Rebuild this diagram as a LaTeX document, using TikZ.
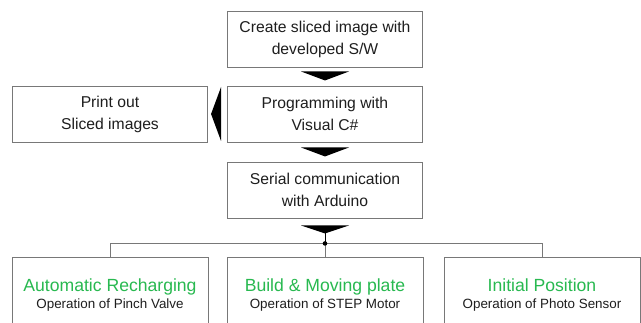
\documentclass[tikz,border=0pt]{standalone}
\usepackage{fontspec}
\setmainfont{Liberation Sans}
\usetikzlibrary{calc}
\definecolor{boxline}{RGB}{120,120,120}
\definecolor{txt}{RGB}{30,30,30}
\definecolor{grn}{RGB}{40,185,80}
\tikzset{
  stepbox/.style={draw=boxline, line width=0.9pt, fill=white, minimum width=195pt, minimum height=56pt, inner sep=0pt, align=center, text=txt, font=\fontsize{15.7}{22}\selectfont},
  outbox/.style={draw=boxline, line width=0.9pt, fill=white, minimum width=196pt, minimum height=90pt, inner sep=0pt, anchor=north},
  gtitle/.style={anchor=base, inner sep=0pt, text=grn, font=\fontsize{17.6}{20}\selectfont},
  bsub/.style={anchor=base, inner sep=0pt, text=txt, font=\fontsize{13.4}{16}\selectfont},
  tri/.style={fill=black, draw=none},
  wire/.style={draw=boxline, line width=0.9pt}
}
\begin{document}
\begin{tikzpicture}[x=1pt,y=-1pt]
\useasboundingbox (0,0) rectangle (641,323);
\clip (0,0) rectangle (641,323);
\fill[white] (0,0) rectangle (641,323);
% main column
\node[stepbox] (create) at (325,39) {Create sliced image with\\developed S/W};
\node[stepbox] (prog) at (325,114) {Programming with\\Visual C\#};
\node[stepbox] (print) at (110,114) {Print out\\Sliced images};
\node[stepbox] (serial) at (325,190) {Serial communication\\with Arduino};
% arrows
\fill[tri] ($(create.south)+(-24,4)$) -- ($(create.south)+(24,4)$) -- ($(create.south)+(0,13)$) -- cycle;
\fill[tri] ($(prog.south)+(-24,5)$) -- ($(prog.south)+(24,5)$) -- ($(prog.south)+(0,14)$) -- cycle;
\fill[tri] ($(prog.west)+(-6,-27)$) -- ($(prog.west)+(-6,27)$) -- ($(prog.west)+(-16,0)$) -- cycle;
\fill[tri] ($(serial.south)+(-24,7)$) -- ($(serial.south)+(24,7)$) -- ($(serial.south)+(0,15)$) -- cycle;
% bottom boxes
\node[outbox] (b1) at (110,257) {};
\node[outbox] (b2) at (325,257) {};
\node[outbox] (b3) at (542,257) {};
\node[gtitle] (g1) at (110,292) {Automatic Recharging};
\node[bsub] (s1) at (110,309) {Operation of Pinch Valve};
\node[gtitle] (g2) at (325,292) {Build \& Moving plate};
\node[bsub] (s2) at (325,309) {Operation of STEP Motor};
\node[gtitle] (g3) at (542,292) {Initial Position};
\node[bsub] (s3) at (542,309) {Operation of Photo Sensor};
% distribution
\coordinate (hub) at ($(serial.south)+(0,25)$);
\draw[wire] (b1.north) |- (hub) -| (b3.north);
\draw[wire] (hub) -- (b2.north);
\draw[black, line width=0.9pt] ($(serial.south)+(0,15)$) -- (hub);
\fill[black] (hub) circle (2.3);
\end{tikzpicture}
\end{document}
